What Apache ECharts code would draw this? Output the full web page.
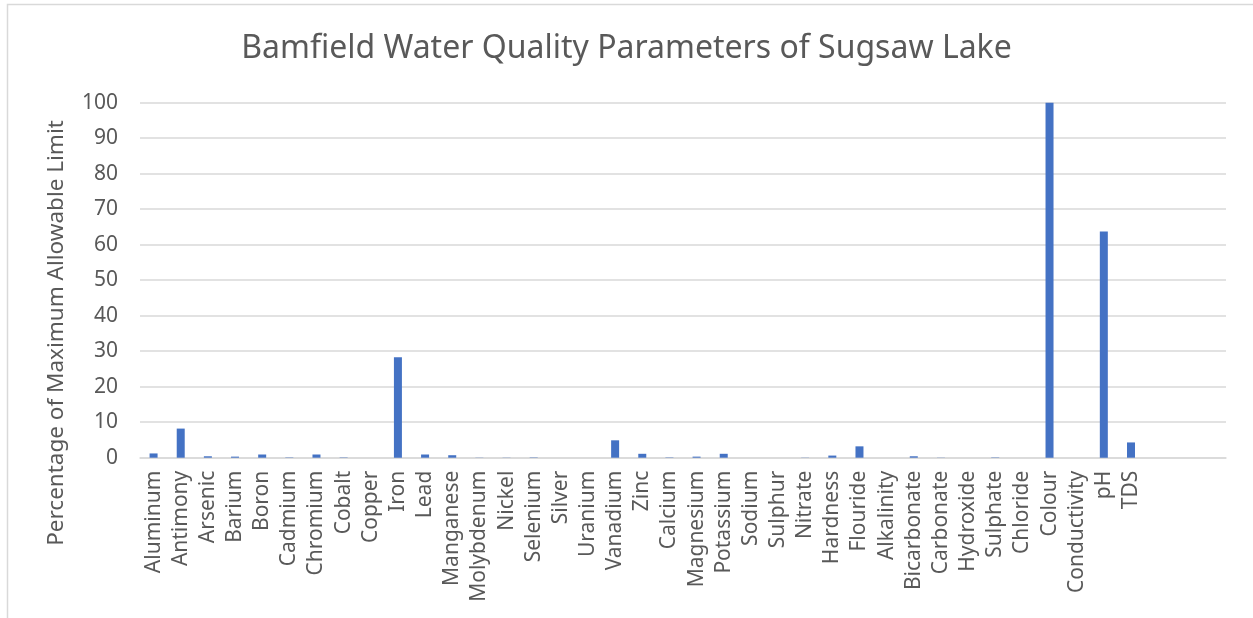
<!DOCTYPE html>
<html>
<head>
<meta charset="utf-8">
<script src="https://cdn.jsdelivr.net/npm/echarts@6/dist/echarts.min.js"></script>
<style>
  html, body { margin: 0; padding: 0; background: #fff; }
  #main { width: 1253px; height: 618px; }
</style>
</head>
<body>
<div id="main"></div>
<script>
// parameters along the x axis (the last three slots are empty in the original)
const params = ['Aluminum', 'Antimony', 'Arsenic', 'Barium', 'Boron', 'Cadmium', 'Chromium', 'Cobalt', 'Copper',
  'Iron', 'Lead', 'Manganese', 'Molybdenum', 'Nickel', 'Selenium', 'Silver', 'Uranium', 'Vanadium', 'Zinc',
  'Calcium', 'Magnesium', 'Potassium', 'Sodium', 'Sulphur', 'Nitrate', 'Hardness', 'Flouride', 'Alkalinity',
  'Bicarbonate', 'Carbonate', 'Hydroxide', 'Sulphate', 'Chloride', 'Colour', 'Conductivity', 'pH', 'TDS',
  '', '', '']

// % of max allowable limit
const pctOfLimit = [1.2, 8.2, 0.4, 0.3, 0.9, 0.1, 0.9, 0.1, 0,
  28.3, 0.9, 0.7, 0.05, 0.05, 0.1, 0, 0, 4.9, 1.1,
  0.1, 0.3, 1.1, 0, 0, 0.05, 0.6, 3.2, 0,
  0.4, 0.05, 0, 0.1, 0, 100, 0, 63.7, 4.3,
  null, null, null]

const yTicks = [0, 10, 20, 30, 40, 50, 60, 70, 80, 90, 100]

const txt = '#595959'
const gridCol = '#d9d9d9'
const font = 'Noto Sans'

let chart = echarts.init(document.getElementById('main'))

let option = {
  backgroundColor: '#fff',
  animation: false,
  title: {
    text: 'Bamfield Water Quality Parameters of Sugsaw Lake',
    left: 'center',
    top: 28,
    textStyle: {
      color: txt,
      fontFamily: font,
      fontWeight: 'normal',
      fontSize: 32
    }
  },
  grid: {
    left: 140,
    right: 27,
    top: 102.7,
    bottom: 160.3
  },
  graphic: [{
    // outer chart border (only left and top edges are in frame)
    type: 'rect',
    shape: { x: 7.5, y: 4.5, width: 1300, height: 700 },
    style: { fill: null, stroke: gridCol, lineWidth: 1.5 },
    silent: true
  }, {
    type: 'text',
    x: 57,
    y: 333,
    rotation: Math.PI / 2,
    style: {
      text: 'Percentage of Maximum Allowable Limit',
      fill: txt,
      font: '22.5px "Noto Sans"',
      textAlign: 'center',
      textVerticalAlign: 'middle'
    }
  }],
  xAxis: {
    type: 'category',
    data: params,
    axisLine: { lineStyle: { color: gridCol, width: 1.5 } },
    axisTick: { show: false },
    axisLabel: {
      rotate: 90,
      interval: 0,
      margin: 13,
      color: txt,
      fontFamily: font,
      fontSize: 21
    }
  },
  yAxis: {
    type: 'value',
    min: yTicks[0],
    max: yTicks[yTicks.length - 1],
    interval: 10,
    axisLine: { show: false },
    axisTick: { show: false },
    splitLine: { lineStyle: { color: gridCol, width: 1.5 } },
    axisLabel: {
      margin: 22,
      color: txt,
      fontFamily: font,
      fontSize: 21
    }
  },
  series: [{
    type: 'bar',
    data: pctOfLimit,
    barWidth: 8,
    itemStyle: { color: '#4472C4' }
  }]
}

chart.setOption(option)
</script>
</body>
</html>
